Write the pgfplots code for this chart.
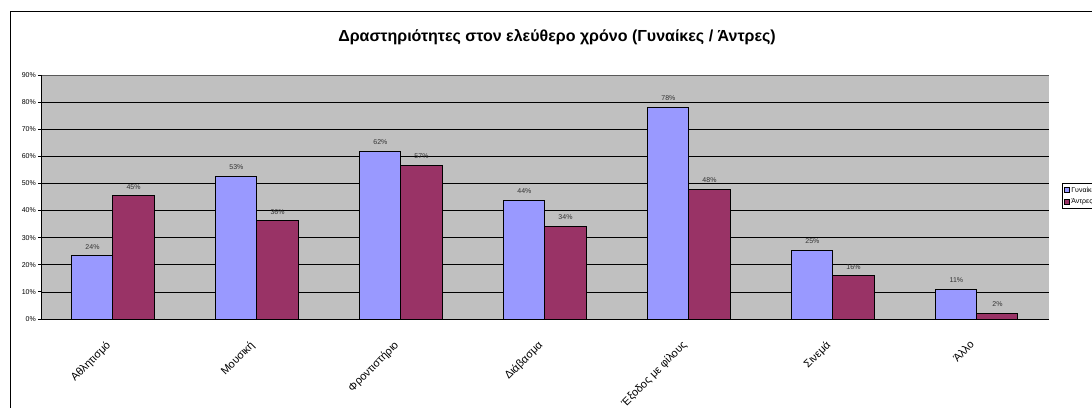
\documentclass[border=0pt]{standalone}
\usepackage{pgfplots}
\pgfplotsset{compat=1.18}
\usepackage{fontspec}
\setmainfont{Liberation Sans}

\definecolor{women}{HTML}{9999FF}
\definecolor{men}{HTML}{993366}
\definecolor{plotbg}{HTML}{C0C0C0}

\begin{document}
\begin{tikzpicture}
\useasboundingbox (0,0) rectangle (1092bp,408bp);
\draw[line width=1bp] (10bp,-5bp) rectangle (1110bp,396bp);
\node[font=\bfseries\fontsize{16bp}{19bp}\selectfont] at (557bp,371bp)
  {Δραστηριότητες στον ελεύθερο χρόνο (Γυναίκες / Άντρες)};

\begin{axis}[
  at={(41bp,89bp)}, anchor=south west,
  width=1008bp, height=244bp, scale only axis,
  axis background/.style={fill=plotbg},
  ybar=0pt, bar width=0.285,
  xmin=-0.5, xmax=6.5, ymin=0, ymax=90,
  xtick={0,...,6},
  xticklabels={Αθλητισμό, Μουσική, Φροντιστήριο, Διάβασμα, Έξοδος με φίλους, Σινεμά, Άλλο},
  xtick style={draw=none},
  minor xtick={-0.5,0.5,...,6.5},
  minor tick length=4bp,
  minor x tick style={black, line width=0.8bp},
  ytick={0,10,...,90},
  yticklabel={\pgfmathprintnumber{\tick}\%},
  /pgf/number format/assume math mode=true,
  major tick length=3bp,
  y tick style={black, line width=0.8bp},
  tick align=outside, tick pos=left,
  ymajorgrids, grid style={black, line width=0.7bp},
  axis line style={draw=none},
  yticklabel style={font=\fontsize{7bp}{8bp}\selectfont, inner sep=1bp, xshift=-1bp},
  xticklabel style={font=\fontsize{11bp}{12bp}\selectfont, rotate=45, anchor=north east, inner sep=0pt, yshift=-7bp, xshift=-18bp},
  nodes near coords,
  point meta=explicit symbolic,
  every node near coord/.append style={font=\fontsize{7bp}{8bp}\selectfont, text=black!80, inner sep=0pt, yshift=6bp},
  legend style={at={(1.0129,0.557)}, anchor=north west, draw=black, line width=0.6bp,
    font=\fontsize{7bp}{8bp}\selectfont, inner sep=1.5bp, row sep=1bp,
    cells={anchor=west}},
  legend image code/.code={\draw[#1, line width=0.6bp] (0bp,-2.5bp) rectangle (5bp,2.5bp);},
]
\addplot[fill=women, draw=black, line width=1bp] coordinates {
  (0,23.4) [24\%] (1,52.6) [53\%] (2,61.8) [62\%] (3,43.7) [44\%]
  (4,78.0) [78\%] (5,25.4) [25\%] (6,11.0) [11\%]
};
\addplot[fill=men, draw=black, line width=1bp] coordinates {
  (0,45.5) [45\%] (1,36.3) [36\%] (2,56.7) [57\%] (3,34.1) [34\%]
  (4,47.8) [48\%] (5,15.9) [16\%] (6,2.2) [2\%]
};
\legend{Γυναίκες, Άντρες}
\draw[gray!70!black, line width=0.8bp] (rel axis cs:0,1) -- (rel axis cs:1,1) -- (rel axis cs:1,0);
\draw[black, line width=0.8bp] (rel axis cs:0,1) -- (rel axis cs:0,0) -- (rel axis cs:1,0);
\end{axis}
\end{tikzpicture}
\end{document}
